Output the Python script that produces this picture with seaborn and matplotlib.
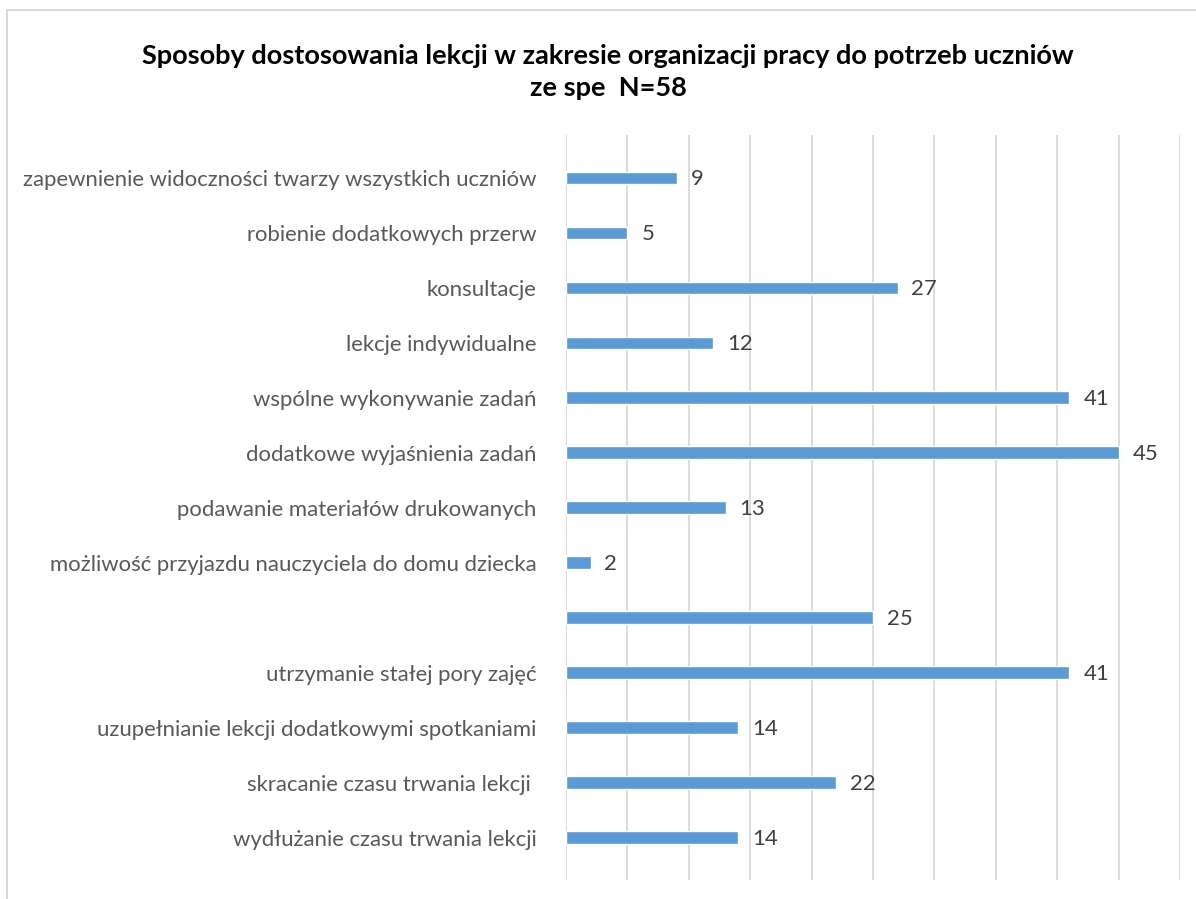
import matplotlib
matplotlib.use("Agg")
import matplotlib.pyplot as plt
import seaborn as sns
import pandas as pd
from matplotlib.patches import Rectangle

categories = [
    "zapewnienie widoczności twarzy wszystkich uczniów",
    "robienie dodatkowych przerw",
    "konsultacje",
    "lekcje indywidualne",
    "wspólne wykonywanie zadań",
    "dodatkowe wyjaśnienia zadań",
    "podawanie materiałów drukowanych",
    "możliwość przyjazdu nauczyciela do domu dziecka",
    " ",
    "utrzymanie stałej pory zajęć",
    "uzupełnianie lekcji dodatkowymi spotkaniami",
    "skracanie czasu trwania lekcji ",
    "wydłużanie czasu trwania lekcji",
]
values = [9, 5, 27, 12, 41, 45, 13, 2, 25, 41, 14, 22, 14]
title = "Sposoby dostosowania lekcji w zakresie organizacji pracy do potrzeb uczniów\nze spe  N=58"

sns.set_theme(style="white")
plt.rcParams['font.family'] = ['Lato', 'DejaVu Sans']

df = pd.DataFrame({"cat": categories, "val": values})

fig = plt.figure(figsize=(11.96, 8.99), dpi=100)
ax = fig.add_axes([566/1196, 1-880/899, (1180-566)/1196, (880-135)/899])

sns.barplot(data=df, x="val", y="cat", orient="h", color="#5b9bd5",
            saturation=1, width=0.23, ax=ax)

ax.set_xlim(0, 50)
ax.set_ylim(12.77, -0.78)
ax.set_xticks(range(0, 51, 5))
ax.set_xticklabels([])
ax.grid(axis="x", color="#d9d9d9", linewidth=1.3)
ax.set_axisbelow(True)
for s in ax.spines.values():
    s.set_visible(False)
ax.tick_params(axis="y", length=0, pad=21, labelsize=15.9, labelcolor="#595959")
ax.tick_params(axis="x", length=0)
ax.set_xlabel("")
ax.set_ylabel("")

for i, v in enumerate(values):
    ax.annotate(str(v), (v, i), xytext=(10, -1), textcoords="offset points",
                va="center", ha="left", fontsize=15.9, color="#404040")

fig.text(608/1196, 1-72/899, title, ha="center", va="center", fontsize=19.5,
         fontweight="bold", color="black", linespacing=1.35)

fig.patches.append(Rectangle((7/1196, -0.01), 1.1, 1-10/899+0.01,
                             transform=fig.transFigure, fill=False,
                             edgecolor="#d9d9d9", linewidth=1.5))

fig.savefig("out.png", dpi=100, facecolor="white")
